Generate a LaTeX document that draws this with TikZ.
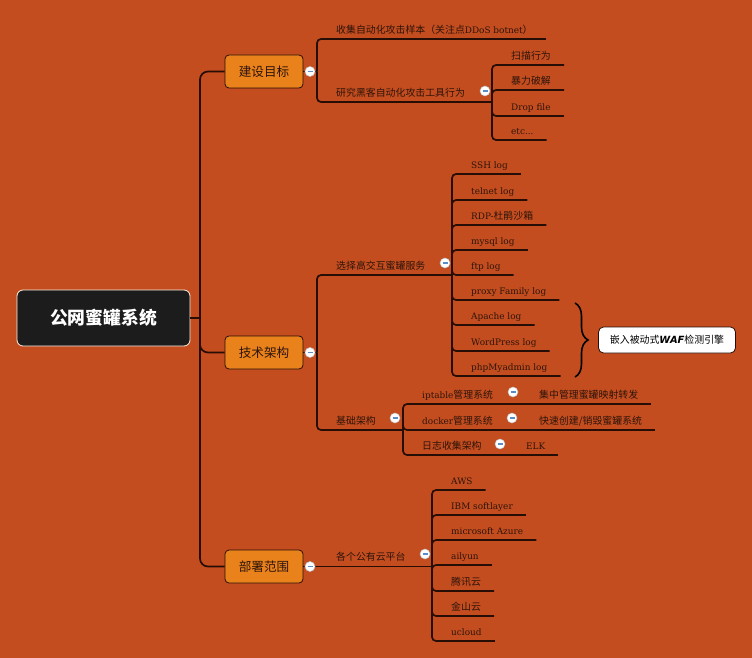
\documentclass[tikz,border=0pt]{standalone}
\usepackage{fontspec}
\setmainfont{Noto Sans CJK SC}
\newfontfamily\slab{DejaVu Serif}[Scale=0.9]
\newfontfamily\wafsans{DejaVu Sans}
\usepackage{tikz}
\usetikzlibrary{positioning,decorations.pathreplacing}
\definecolor{bgorange}{RGB}{196,77,31}
\definecolor{topicorange}{RGB}{234,130,28}
\definecolor{linebrown}{RGB}{38,14,6}
\definecolor{textbrown}{RGB}{45,20,10}
\definecolor{rootblack}{RGB}{28,28,28}
\definecolor{foldblue}{RGB}{90,140,200}
\tikzset{
  % 连线
  branch/.style={draw=linebrown, line width=1.7pt, rounded corners=4pt},
  % 中心主题
  root/.style={
    draw=white!90!orange,
    line width=0.8pt,
    fill=rootblack,
    rounded corners=6pt,
    minimum width=173pt,
    minimum height=56pt,
    text=white,
    font=\fontsize{17.8}{20}\selectfont\bfseries
  },
  % 一级主题
  topic/.style={
    draw=linebrown,
    line width=0.8pt,
    fill=topicorange,
    rounded corners=4pt,
    minimum width=78pt,
    minimum height=33pt,
    text=textbrown,
    font=\fontsize{12.6}{14}\selectfont
  },
  % 下划线文字
  leaf/.style={
    anchor=south west,
    inner xsep=13pt,
    inner ysep=4pt,
    text height=8pt,
    text depth=1.5pt,
    text=textbrown,
    font=\fontsize{9.9}{11}\selectfont
  },
  latin/.style={leaf, font=\fontsize{9.9}{11}\selectfont\slab},
  % 折叠按钮
  fold/.style={
    circle,
    draw=gray!50,
    line width=0.5pt,
    fill=white,
    minimum size=10pt,
    inner sep=0pt,
    path picture={\draw[foldblue, line width=1.3pt]
      ([xshift=-2.5pt]path picture bounding box.center) --
      ([xshift=2.5pt]path picture bounding box.center);}
  },
  % 说明框
  note/.style={
    draw=linebrown,
    line width=0.8pt,
    fill=white,
    rounded corners=5pt,
    minimum width=137pt,
    minimum height=26pt,
    text=black,
    font=\fontsize{9.9}{11}\selectfont
  },
}

\begin{document}
\begin{tikzpicture}[x=1pt,y=-1pt]
  \useasboundingbox (0,0) rectangle (752,658);
  \fill[bgorange] (0,0) rectangle (752,658);

  % 中心主题与一级分支
  \node[root] (root) at (103.5,318) {公网蜜罐系统};
  \node[topic] (goal) at (264,71.5) {建设目标};
  \node[topic] (tech) at (264,352.5) {技术架构};
  \node[topic] (deploy) at (264,566.5) {部署范围};

  \coordinate (hub) at (200,318);
  \draw[branch] (root.east) -- (hub);
  \draw[branch, rounded corners=8pt] (hub) |- (goal.west);
  \draw[branch, rounded corners=8pt] (hub) |- (tech.west);
  \draw[branch, rounded corners=8pt] (hub) |- (deploy.west);

  % 建设目标
  \coordinate (gsp) at (317,71.5);
  \coordinate (rsp) at (492,102);
  \node[leaf] (sample) at (323,39) {收集自动化攻击样本（关注点{\slab DDoS botnet}）};
  \node[leaf] (research) at (323,102) {研究黑客自动化攻击工具行为};
  \draw[branch] (goal.east) -- (gsp);
  \draw[branch] (gsp) |- (sample.south east);
  \draw[branch] (gsp) |- (rsp);

  \node[leaf] (scan) at (498,65) {扫描行为};
  \node[leaf] (brute) at (498,90) {暴力破解};
  \node[latin] (drop) at (498,116) {Drop file};
  \node[latin] (etc) at (498,140) {etc...};
  \draw[branch] (rsp) |- (scan.south east);
  \draw[branch] (rsp) |- (brute.south east);
  \draw[branch] (rsp) |- (drop.south east);
  \draw[branch] (rsp) |- (etc.south east);

  % 技术架构
  \coordinate (tsp) at (317,352.5);
  \coordinate (ssp) at (452,275);
  \coordinate (isp) at (403,430);
  \node[leaf] (honeysvc) at (323,275) {选择高交互蜜罐服务};
  \node[leaf] (infra) at (323,430) {基础架构};
  \draw[branch] (tech.east) -- (tsp);
  \draw[branch] (tsp) |- (ssp);
  \draw[branch] (tsp) |- (isp);

  % 蜜罐服务
  \node[latin] (ssh) at (458,174) {SSH log};
  \node[latin] (telnet) at (458,200) {telnet log};
  \node[leaf] (rdp) at (458,225) {{\slab RDP-}杜鹃沙箱};
  \node[latin] (mysql) at (458,250) {mysql log};
  \node[latin] (ftp) at (458,275) {ftp log};
  \node[latin] (proxy) at (458,300) {proxy Family log};
  \node[latin] (apache) at (458,325) {Apache log};
  \node[latin] (wordpress) at (458,351) {WordPress log};
  \node[latin] (pma) at (458,376) {phpMyadmin log};
  \draw[branch] (ssp) |- (ssh.south east);
  \draw[branch] (ssp) |- (telnet.south east);
  \draw[branch] (ssp) |- (rdp.south east);
  \draw[branch] (ssp) |- (mysql.south east);
  \draw[branch] (ssp) |- (ftp.south east);
  \draw[branch] (ssp) |- (proxy.south east);
  \draw[branch] (ssp) |- (apache.south east);
  \draw[branch] (ssp) |- (wordpress.south east);
  \draw[branch] (ssp) |- (pma.south east);

  % WAF
  \draw[black, line width=1.6pt, decorate,
    decoration={brace, amplitude=13pt, aspect=0.5}] (575,303) -- (575,377);
  \node[note] (waf) at (667,340) {嵌入被动式{\wafsans\bfseries\itshape WAF}检测引擎};

  % 基础架构
  \coordinate (ipsp) at (520,404);
  \coordinate (dksp) at (520,430);
  \coordinate (lgsp) at (507,455);
  \node[leaf] (iptable) at (409,404) {{\slab iptable}管理系统};
  \node[leaf] (docker) at (409,430) {{\slab docker}管理系统};
  \node[leaf] (logsys) at (409,455) {日志收集架构};
  \draw[branch] (isp) |- (ipsp);
  \draw[branch] (isp) |- (dksp);
  \draw[branch] (isp) |- (lgsp);

  \node[leaf] (forward) at (526,404) {集中管理蜜罐映射转发};
  \node[leaf] (create) at (526,430) {快速创建/销毁蜜罐系统};
  \node[latin] (elk) at (513,455) {ELK};
  \draw[branch] (ipsp) -- (forward.south east);
  \draw[branch] (dksp) -- (create.south east);
  \draw[branch] (lgsp) -- (elk.south east);

  % 部署范围
  \coordinate (csp) at (432,566.5);
  \node[leaf] (cloud) at (323,566.5) {各个公有云平台};
  \draw[branch] (deploy.east) -- (csp);

  \node[latin] (aws) at (438,490) {AWS};
  \node[latin] (ibm) at (438,515) {IBM softlayer};
  \node[latin] (azure) at (438,540) {microsoft Azure};
  \node[latin] (aliyun) at (438,565) {ailyun};
  \node[leaf] (tencent) at (438,591) {腾讯云};
  \node[leaf] (kingsoft) at (438,616) {金山云};
  \node[latin] (ucloud) at (438,641) {ucloud};
  \draw[branch] (csp) |- (aws.south east);
  \draw[branch] (csp) |- (ibm.south east);
  \draw[branch] (csp) |- (azure.south east);
  \draw[branch] (csp) |- (aliyun.south east);
  \draw[branch] (csp) |- (tencent.south east);
  \draw[branch] (csp) |- (kingsoft.south east);
  \draw[branch] (csp) |- (ucloud.south east);

  % 折叠按钮
  \node[fold] (fgoal) at (310,71.5) {};
  \node[fold] (fresearch) at (485,91) {};
  \node[fold] (ftech) at (310,352.5) {};
  \node[fold] (fsvc) at (445,263) {};
  \node[fold] (finfra) at (395,418) {};
  \node[fold] (fipt) at (513,392) {};
  \node[fold] (fdocker) at (512,418) {};
  \node[fold] (flog) at (500,444) {};
  \node[fold] (fdeploy) at (310,566.5) {};
  \node[fold] (fcloud) at (425,554) {};
\end{tikzpicture}
\end{document}
